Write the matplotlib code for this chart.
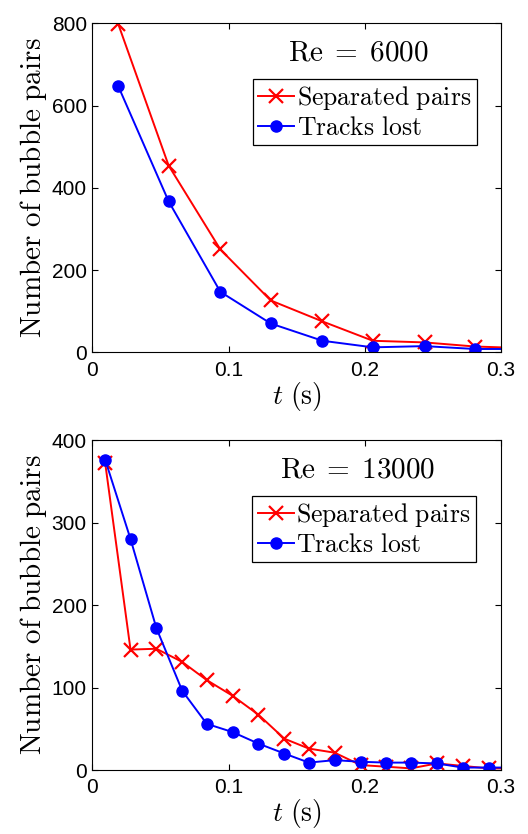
import numpy as np
import matplotlib
matplotlib.use('Agg')
import matplotlib.pyplot as plt

plt.rcParams['font.family'] = 'Liberation Sans'
plt.rcParams['mathtext.fontset'] = 'cm'

# Re = 6000 (last point sits just outside the axes and is clipped)
t_6000 = [0.019, 0.056, 0.094, 0.131, 0.169, 0.206, 0.244, 0.281, 0.319]
sep_6000 = [798, 454, 250, 126, 75, 28, 24, 14, 10]
lost_6000 = [647, 367, 147, 70, 28, 12, 15, 8, 8]

# Re = 13000
t_13000 = [0.0094, 0.028, 0.047, 0.066, 0.084, 0.103, 0.122, 0.141, 0.159,
           0.178, 0.197, 0.216, 0.234, 0.253, 0.272, 0.291, 0.309]
sep_13000 = [372, 146, 147, 131, 109, 90, 67, 38, 26, 21, 6, 4, 2, 8, 5, 2, 2]
lost_13000 = [376, 280, 172, 96, 56, 46, 32, 20, 9, 12, 10, 9, 9, 8, 3, 3, 3]

fig = plt.figure(figsize=(5.28, 8.34), dpi=100)


def draw_panel(rect, t, sep, lost, ymax, yticks, title, leg_box):
    ax = fig.add_axes(rect)
    ax.plot(t, sep, color='#ff0000', lw=1.4, marker='x', ms=10, mew=1.6,
            label=r'$\mathrm{Separated\ pairs}$')
    ax.plot(t, lost, color='#0000ff', lw=1.4, marker='o', ms=8,
            label=r'$\mathrm{Tracks\ lost}$')
    ax.set_xlim(0, 0.3)
    ax.set_ylim(0, ymax)
    ax.set_xticks([0, 0.1, 0.2, 0.3])
    ax.set_xticklabels(['0', '0.1', '0.2', '0.3'])
    ax.set_yticks(yticks)
    ax.tick_params(direction='in', top=True, right=True, length=4,
                   labelsize=15)
    ax.tick_params(axis='x', pad=6)
    ax.tick_params(axis='y', pad=4)
    for s in ax.spines.values():
        s.set_linewidth(0.8)
    ax.set_xlabel(r'$t\ \mathrm{(s)}$', fontsize=20, labelpad=0)
    ax.set_ylabel(r'$\mathrm{Number\ of\ bubble\ pairs}$', fontsize=21,
                  labelpad=2)
    ax.text(0.65, 0.91, title, transform=ax.transAxes, fontsize=21,
            ha='center', va='center')
    leg = ax.legend(loc='upper left', bbox_to_anchor=leg_box, fontsize=18.5,
                    handlelength=1.4, handletextpad=0.1, borderpad=0.2,
                    labelspacing=0.15, borderaxespad=0, fancybox=False,
                    framealpha=1)
    leg.get_frame().set_edgecolor('black')
    leg.get_frame().set_linewidth(0.9)
    return ax


draw_panel([0.175, 0.5776, 0.7735, 0.3945], t_6000, sep_6000, lost_6000,
           800, [0, 200, 400, 600, 800], r'$\mathrm{Re}\;=\;6000$',
           (0.394, 0.83))
draw_panel([0.175, 0.0767, 0.7735, 0.3957], t_13000, sep_13000, lost_13000,
           400, [0, 100, 200, 300, 400], r'$\mathrm{Re}\;=\;13000$',
           (0.392, 0.83))

fig.savefig('out.png', dpi=100)
